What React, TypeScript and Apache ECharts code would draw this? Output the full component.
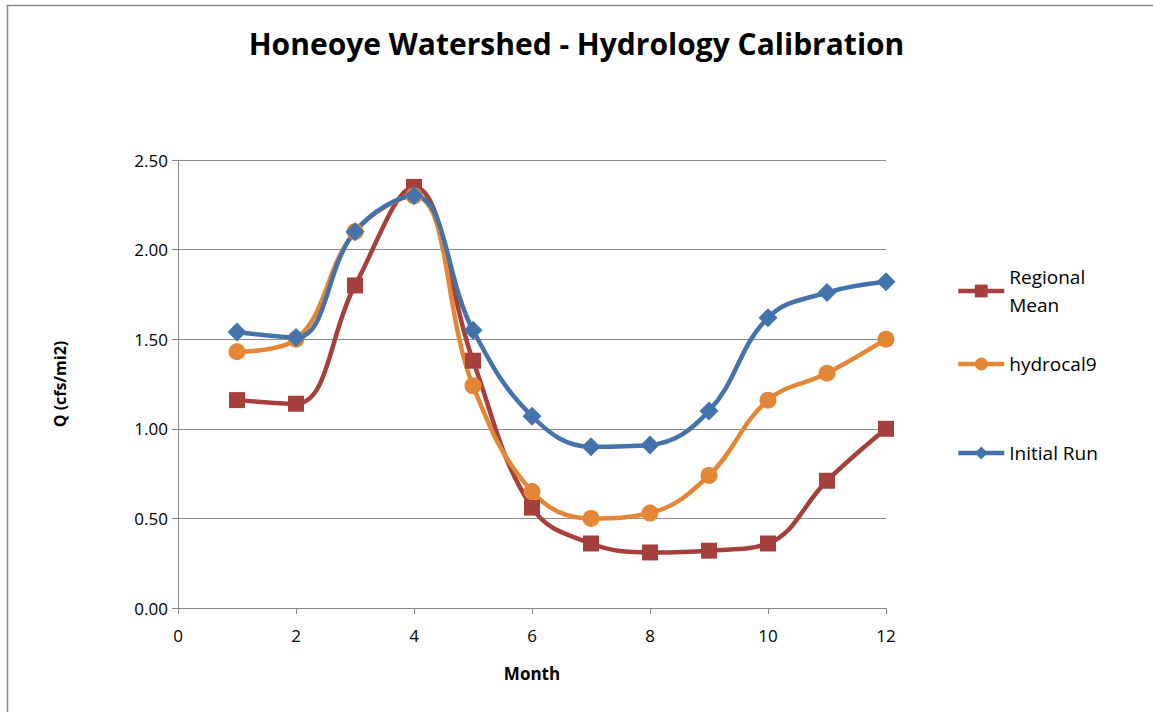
import React, { useEffect, useRef } from "react";
import * as echarts from "echarts";

const months = [1, 2, 3, 4, 5, 6, 7, 8, 9, 10, 11, 12];
const regionalMean = [1.16, 1.14, 1.8, 2.35, 1.38, 0.56, 0.36, 0.31, 0.32, 0.36, 0.71, 1.0];
const hydrocal9 = [1.43, 1.5, 2.1, 2.3, 1.24, 0.65, 0.5, 0.53, 0.74, 1.16, 1.31, 1.5];
const initialRun = [1.54, 1.51, 2.1, 2.3, 1.55, 1.07, 0.9, 0.91, 1.1, 1.62, 1.76, 1.82];

const seriesNames = ["Regional Mean", "hydrocal9", "Initial Run"];
const colors = ["#A6403D", "#E38736", "#4473AB"];
const symbols = ["rect", "circle", "diamond"];
const symbolSizes = [16, 17, 19];
const seriesData = [regionalMean, hydrocal9, initialRun];

const FONT = "'Open Sans', 'Noto Sans', sans-serif";

export default function App() {
  const ref = useRef<HTMLDivElement>(null);
  useEffect(() => {
    if (!ref.current) return;
    const chart = echarts.init(ref.current, null, { renderer: "svg" });
    const legendTops = [263, 350, 439];
    chart.setOption({
      animation: false,
      backgroundColor: "#ffffff",
      textStyle: { fontFamily: FONT },
      title: {
        text: "Honeoye Watershed - Hydrology Calibration",
        left: "center",
        top: 28,
        textStyle: { fontFamily: FONT, fontSize: 30, fontWeight: "bold", color: "#000" },
        padding: 0,
        itemGap: 0,
      },
      graphic: [
        {
          type: "rect",
          shape: { x: 7.5, y: 5.5, width: 1200, height: 800 },
          style: { fill: "none", stroke: "#8a8a8a", lineWidth: 1.5 },
          silent: true,
        },
      ],
      legend: seriesNames.map((n, i) => ({
        data: [n],
        orient: "vertical",
        left: 956,
        top: legendTops[i],
        itemWidth: 46,
        itemHeight: 16,
        itemGap: 4,
        padding: 0,
        lineStyle: { width: 4.5 },
        formatter: (name: string) => (name === "Regional Mean" ? "Regional\nMean" : name),
        textStyle: { fontFamily: FONT, fontSize: 19, color: "#000", lineHeight: 28 },
        selectedMode: false,
      })),
      grid: { left: 178, right: 267, top: 160, bottom: 104 },
      xAxis: {
        type: "value",
        min: 0,
        max: 12,
        interval: 2,
        name: "Month",
        nameLocation: "middle",
        nameGap: 57,
        nameTextStyle: { fontFamily: FONT, fontSize: 17, fontWeight: "bold", color: "#000" },
        axisLine: { show: true, lineStyle: { color: "#888", width: 1 } },
        axisTick: { show: true, length: 6, lineStyle: { color: "#888" } },
        axisLabel: { fontFamily: FONT, fontSize: 17, color: "#000", margin: 19 },
        splitLine: { show: false },
      },
      yAxis: {
        type: "value",
        min: 0,
        max: 2.5,
        interval: 0.5,
        name: "Q (cfs/mi2)",
        nameLocation: "middle",
        nameGap: 110,
        nameRotate: 90,
        nameTextStyle: { fontFamily: FONT, fontSize: 16, fontWeight: "bold", color: "#000" },
        axisLine: { show: true, lineStyle: { color: "#888", width: 1 } },
        axisTick: { show: true, length: 6, lineStyle: { color: "#888" } },
        axisLabel: {
          fontFamily: FONT,
          fontSize: 17,
          color: "#000",
          margin: 10,
          formatter: (v: number) => v.toFixed(2),
        },
        splitLine: { show: true, lineStyle: { color: "#8c8c8c", width: 1 } },
      },
      series: seriesNames.map((n, i) => ({
        name: n,
        type: "line",
        smooth: 0.4,
        data: months.map((m, j) => [m, seriesData[i][j]]),
        symbol: symbols[i],
        symbolSize: symbolSizes[i],
        showAllSymbol: true,
        lineStyle: { color: colors[i], width: 4.5 },
        itemStyle: { color: colors[i], borderWidth: 0 },
        emphasis: { disabled: true },
      })),
    });
    return () => chart.dispose();
  }, []);
  return (
    <div
      ref={ref}
      style={{ position: "fixed", left: 0, top: 0, width: 1153, height: 712 }}
    />
  );
}
